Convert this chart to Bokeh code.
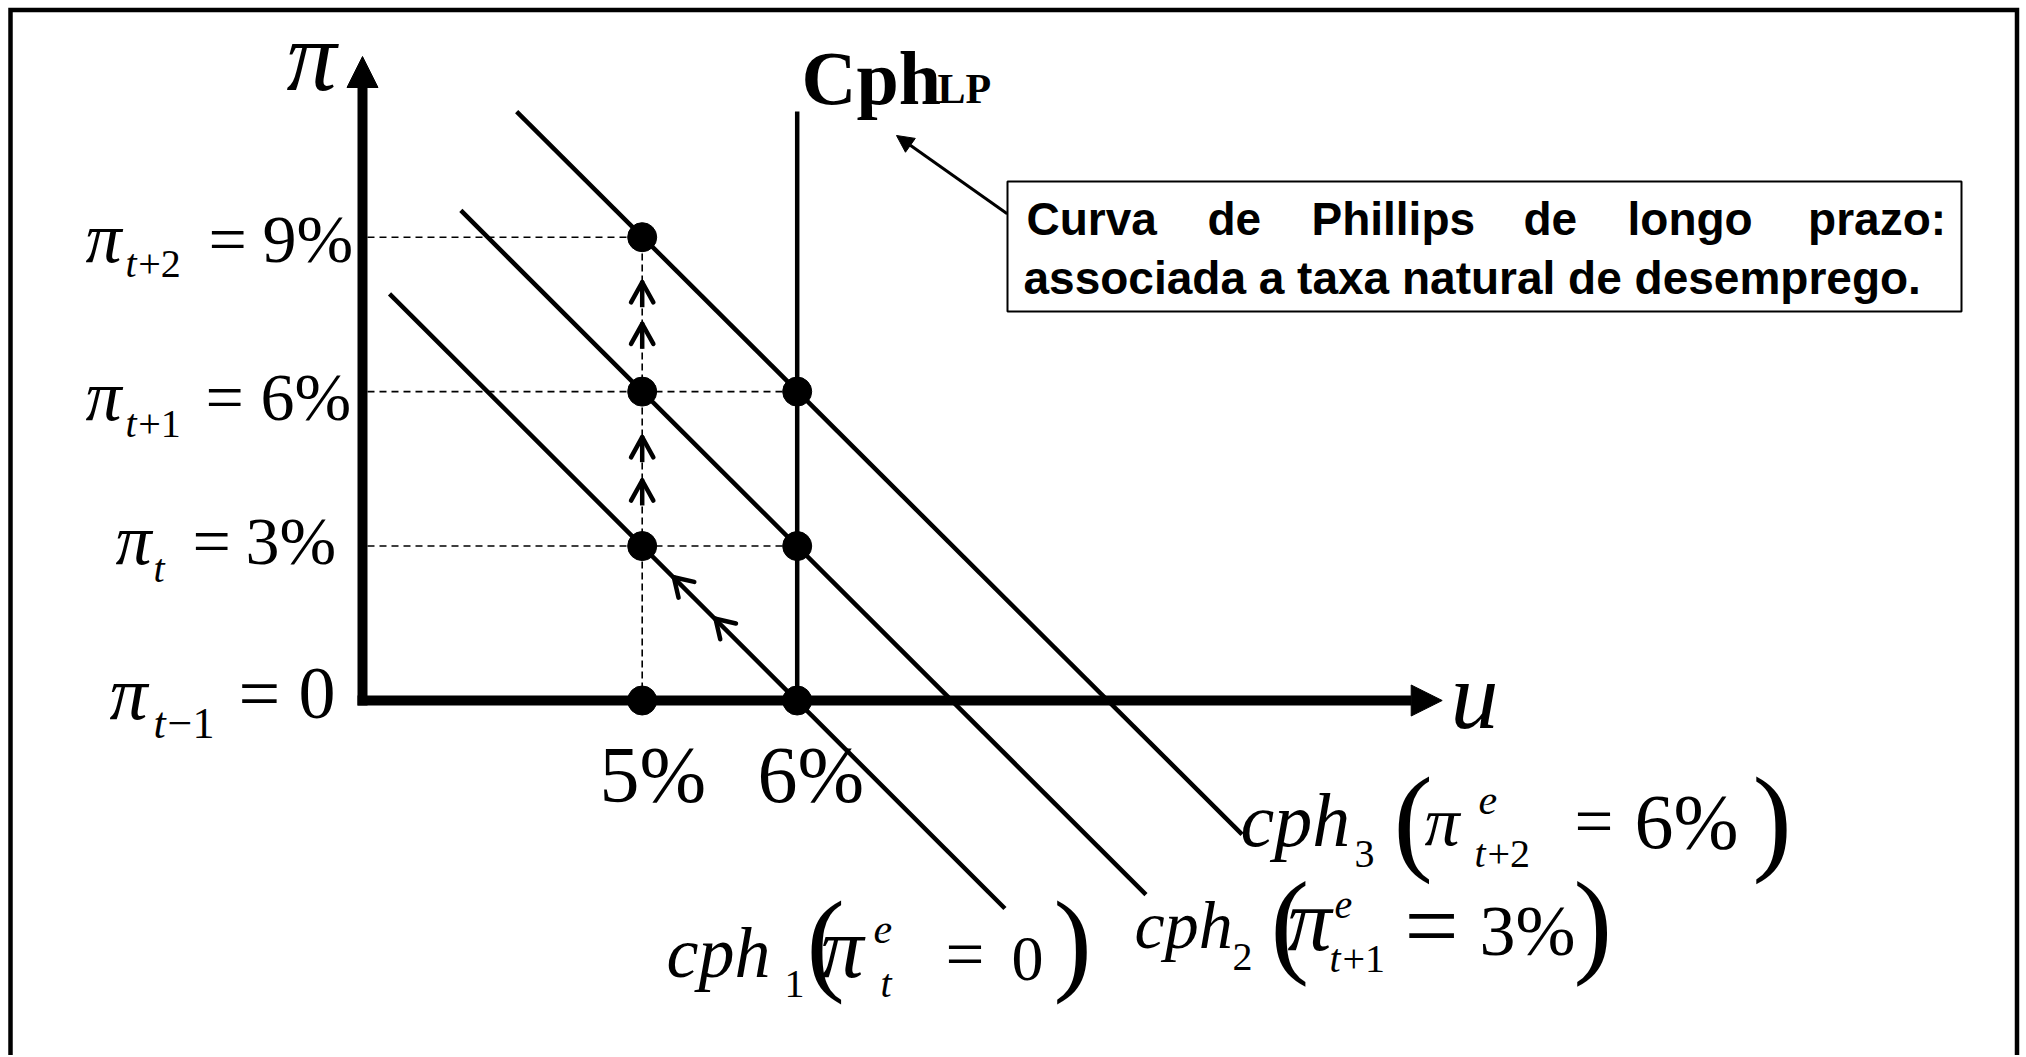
import math
from bokeh.plotting import figure
from bokeh.models import Range1d, Label, Arrow, NormalHead
from bokeh.embed import file_html
from bokeh.resources import INLINE

# ---------------- data ----------------
u_natural = 6.0                      # long-run Phillips curve (Cph LP)
lp_top = 11.44                       # top of the vertical LP line
point_u = [5, 6, 5, 6, 5, 6, 5]
point_pi = [0, 0, 3, 3, 6, 6, 9]
cph_expected = [0, 3, 6]             # expected inflation of cph1, cph2, cph3
cph_u_start = [3.37, 3.83, 4.19]
cph_pi_start = [7.90, 9.52, 11.44]
cph_u_end = [7.34, 8.25, 8.87]
cph_pi_end = [-4.04, -3.77, -2.60]
guide_pi = [9, 6, 3]                 # dotted horizontal guides
guide_u_end = [5, 6, 6]
path_u = 5                           # dashed vertical path at u = 5%
path_pi_top = 9
up_arrow_pi = [8.125, 7.317, 5.115, 4.274]   # chevrons on the dashed path
cph1_arrow_u = [5.204, 5.473]                # chevrons along cph1
cph1_arrow_pi = [2.395, 1.587]
u_ticks = [5, 6]
u_tick_labels = ["5%", "6%"]
pi_ticks = [9, 6, 3, 0]
pi_tick_sub = ["t+2", "t+1", "t", "t\u22121"]
pi_tick_val = ["9%", "6%", "3%", "0"]
box_line1 = ["Curva", "de", "Phillips", "de", "longo", "prazo:"]
box_line2 = "associada a taxa natural de desemprego."

# ---------------- layout (page pixels -> data) ----------------
W, H = 2024, 1055
PXU, PXP = 155.0, 51.48            # pixels per unit of u and of pi
U0 = 5 - 641.7 / PXU
P_TOP = 700 / PXP


def X(px):
    return U0 + px / PXU


def Y(py):
    return P_TOP - py / PXP


p = figure(width=W, height=H, output_backend="svg", toolbar_location=None,
           x_range=Range1d(U0, U0 + W / PXU), y_range=Range1d(P_TOP - H / PXP, P_TOP),
           min_border=0, outline_line_color=None)
p.axis.visible = False
p.grid.visible = False
p.background_fill_color = "white"
p.border_fill_color = "white"

BLACK = "#000000"

# outer frame (left, top, right; bottom runs off the page)
p.line([X(10), X(10), X(2016.5), X(2016.5)], [Y(1200), Y(9.5), Y(9.5), Y(1200)],
       line_width=4.5, line_color=BLACK, line_join="miter")

# axes
ax_u = X(362)
p.segment(x0=[ax_u], y0=[Y(705)], x1=[ax_u], y1=[Y(86)], line_width=10, line_color=BLACK)
p.segment(x0=[X(357)], y0=[0], x1=[X(1411)], y1=[0], line_width=10, line_color=BLACK)
p.add_layout(Arrow(end=NormalHead(size=31, fill_color=BLACK, line_color=BLACK, line_width=1),
                   x_start=ax_u, y_start=Y(120), x_end=ax_u, y_end=Y(56), line_alpha=0))
p.add_layout(Arrow(end=NormalHead(size=31, fill_color=BLACK, line_color=BLACK, line_width=1),
                   x_start=X(1380), y_start=0, x_end=X(1441.7), y_end=0, line_alpha=0))

# guides
p.segment(x0=[X(367)] * len(guide_pi), y0=guide_pi, x1=guide_u_end, y1=guide_pi,
          line_width=1.6, line_color=BLACK, line_dash="7 5")
p.segment(x0=[path_u], y0=[0], x1=[path_u], y1=[path_pi_top],
          line_width=1.6, line_color=BLACK, line_dash="7 4")

# Phillips curves
p.segment(x0=cph_u_start, y0=cph_pi_start, x1=cph_u_end, y1=cph_pi_end,
          line_width=4.5, line_color=BLACK)
p.segment(x0=[u_natural], y0=[0], x1=[u_natural], y1=[lp_top], line_width=4.5, line_color=BLACK)

# points
p.scatter(point_u, point_pi, size=29, color=BLACK)


# chevrons (open arrow heads), built in pixel space around each tip
def chevron_arms(tip_u, tip_pi, back_dx, back_dy, arm, half_deg):
    tx = (tip_u - U0) * PXU
    ty = (P_TOP - tip_pi) * PXP
    n = math.hypot(back_dx, back_dy)
    bx, by = back_dx / n, back_dy / n
    ends = []
    for sgn in (-1, 1):
        a = math.radians(half_deg) * sgn
        ex = tx + arm * (bx * math.cos(a) - by * math.sin(a))
        ey = ty + arm * (bx * math.sin(a) + by * math.cos(a))
        ends.append((X(ex), Y(ey)))
    return ends


sx0, sy0, sx1, sy1 = [], [], [], []
for tip in up_arrow_pi:
    for ex, ey in chevron_arms(path_u, tip, 0, 1, 23, 29):
        sx0.append(path_u)
        sy0.append(tip)
        sx1.append(ex)
        sy1.append(ey)
# cph1 direction in pixels (towards lower right = "back" of the up-left arrows)
d_px = (cph_u_end[0] - cph_u_start[0]) * PXU
d_py = (cph_pi_start[0] - cph_pi_end[0]) * PXP
for cu, cp in zip(cph1_arrow_u, cph1_arrow_pi):
    for ex, ey in chevron_arms(cu, cp, d_px, d_py, 21, 32):
        sx0.append(cu)
        sy0.append(cp)
        sx1.append(ex)
        sy1.append(ey)
p.segment(x0=sx0, y0=sy0, x1=sx1, y1=sy1, line_width=4.5, line_color=BLACK, line_cap="round")
# short solid shafts under the vertical chevrons
p.segment(x0=[path_u] * len(up_arrow_pi), y0=[t - 2 / PXP for t in up_arrow_pi],
          x1=[path_u] * len(up_arrow_pi), y1=[t - 25 / PXP for t in up_arrow_pi],
          line_width=4.5, line_color=BLACK)

# annotation box and arrow
p.quad(left=[X(1007)], right=[X(1961)], top=[Y(181)], bottom=[Y(311)],
       fill_color="white", line_color=BLACK, line_width=2)
p.add_layout(Arrow(end=NormalHead(size=17, fill_color=BLACK, line_color=BLACK, line_width=1),
                   x_start=X(1006.7), y_start=Y(213.3), x_end=X(896), y_end=Y(135),
                   line_width=3, line_color=BLACK))

SERIF = "Liberation Serif"
SANS = "Liberation Sans"
PI = "\u03c0"
PI_STYLE = "italic"


def txt(px, base, s, size, style="normal", font=SERIF):
    k = 0.34 if font == SERIF else 0.35
    p.add_layout(Label(x=X(px), y=Y(base - k * size), text=s, text_font=font,
                       text_font_size=f"{size}px", text_font_style=style,
                       text_color=BLACK, text_align="left", text_baseline="alphabetic"))


# axis titles
txt(286, 90, PI, 100, PI_STYLE)
txt(1450, 728, "u", 96, "italic")

# pi tick labels (pi_sub = value)
lab_layout = [
    # pi_x, base, sub_x, sub_base, eq_x, val_x, pi size, eq/val size, sub size
    (85, 262, 125, 277, 208, 262, 72, 68, 40),
    (85, 420, 125, 437, 205, 260, 72, 68, 40),
    (115, 564, 153, 582, 192, 245, 72, 68, 40),
    (109, 718, 153, 738, 238, 298, 76, 74, 44),
]
for (pxx, base, sx, sb, ex, vx, ps, ms, ss), sub, val in zip(lab_layout, pi_tick_sub, pi_tick_val):
    txt(pxx, base, PI, ps, PI_STYLE)
    txt(sx, sb, sub[0], ss, "italic")
    if len(sub) > 1:
        txt(sx + 0.32 * ss, sb, sub[1:], ss)
    txt(ex, base, "=", ms)
    txt(vx, base, val, ms)

# u tick labels
for xpos, lab in zip([599, 757], u_tick_labels):
    txt(xpos, 802, lab, 80)

# Cph LP label
txt(801, 103, "Cph", 76, "bold")
txt(937, 103, "LP", 42, "bold")

# box text
for xpos, w in zip([1026, 1207, 1311, 1523, 1627, 1807.6], box_line1):
    txt(xpos, 235, w, 46, "bold", SANS)
txt(1023, 294, box_line2, 46, "bold", SANS)

# curve labels
# cph1 (pi^e_t = 0)
txt(666, 977, "cph", 72, "italic")
txt(784, 997, "1", 40)
txt(806, 980, "(", 115)
txt(820, 977, PI, 86, PI_STYLE)
txt(873, 943, "e", 42, "italic")
txt(880, 997, "t", 40, "italic")
txt(945, 978, "=", 69)
txt(1011, 980, "0", 64)
txt(1053, 980, ")", 115)
# cph2 (pi^e_{t+1} = 3%)
txt(1134, 948, "cph", 68, "italic")
txt(1232, 970, "2", 40)
txt(1270, 962, "(", 116)
txt(1287, 950, PI, 88, PI_STYLE)
txt(1334, 918, "e", 40, "italic")
txt(1329, 972, "t", 40, "italic")
txt(1342, 972, "+1", 40)
txt(1404, 958, "=", 96)
txt(1479, 955, "3%", 72)
txt(1573, 962, ")", 116)
# cph3 (pi^e_{t+2} = 6%)
txt(1240, 845, "cph", 76, "italic")
txt(1354, 867, "3", 40)
txt(1393, 859, "(", 118)
txt(1424, 845, PI, 70, PI_STYLE)
txt(1478, 814, "e", 42, "italic")
txt(1474, 867, "t", 40, "italic")
txt(1487, 867, "+2", 40)
txt(1574, 845, "=", 69)
txt(1634, 848, "6%", 78)
txt(1752, 859, ")", 118)

open("out.html", "w").write(file_html(p, INLINE))
